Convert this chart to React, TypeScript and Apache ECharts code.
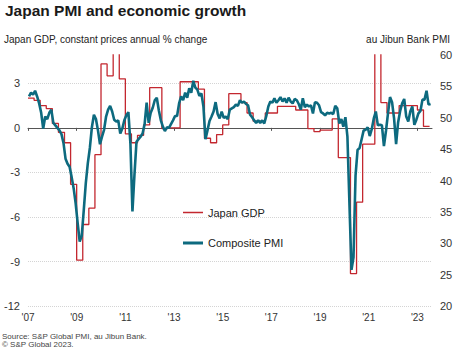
import React, { useEffect, useRef } from 'react';
import * as echarts from 'echarts';

const FONT = '"Liberation Sans", Arial, sans-serif';
const RED = '#c3272f';
const TEAL = '#0d6a7f';

const titleText = 'Japan PMI and economic growth';
const leftAxisTitle = 'Japan GDP, constant prices annual % change';
const rightAxisTitle = 'au Jibun Bank PMI';
const sourceLines = ['Source: S&P Global PMI, au Jibun Bank.', '\u00A9 S&P Global 2023.'];
const seriesNames = ['Japan GDP', 'Composite PMI'];

// x axis: years since 2007, ticks every 2 years ('07 ... '23)
const startYear = 2007;
const xTickValues = [0, 2, 4, 6, 8, 10, 12, 14, 16];

// Composite PMI, monthly from Jan 2007
const pmi2007 = [53.4, 54.0, 53.7, 54.3, 53.4, 52.3, 50.8, 48.3, 50.2, 49.8, 50.8, 51.3];
const pmi2008 = [49.2, 48.8, 48.4, 48.0, 47.4, 46.0, 43.5, 42.7, 42.2, 40.6, 38.8, 36.4];
const pmi2009 = [33.2, 30.3, 31.2, 35.3, 39.6, 42.8, 45.2, 48.5, 50.5, 49.8, 48.0, 45.8];
const pmi2010 = [47.0, 48.1, 50.2, 51.3, 51.9, 51.0, 49.7, 49.4, 49.6, 47.5, 48.3, 49.6];
const pmi2011 = [50.4, 50.9, 45.9, 35.1, 41.0, 46.2, 46.6, 47.0, 47.5, 49.0, 52.4, 49.2];
const pmi2012 = [50.8, 51.6, 52.8, 53.2, 51.2, 49.6, 48.6, 47.9, 48.5, 48.4, 49.0, 49.6];
const pmi2013 = [50.3, 50.3, 52.3, 53.4, 52.8, 54.0, 53.2, 54.7, 54.0, 55.9, 54.8, 54.5];
const pmi2014 = [53.5, 53.9, 51.8, 46.6, 48.0, 49.5, 50.2, 51.0, 52.5, 50.6, 49.9, 51.0];
const pmi2015 = [50.0, 50.2, 49.8, 51.3, 51.5, 51.7, 52.1, 51.9, 52.8, 52.4, 52.6, 52.2];
const pmi2016 = [52.0, 50.5, 50.1, 49.6, 49.2, 49.6, 49.2, 49.6, 49.1, 50.3, 51.8, 52.6];
const pmi2017 = [52.4, 53.1, 52.4, 52.8, 53.3, 52.6, 53.1, 52.4, 53.2, 52.6, 52.3, 53.0];
const pmi2018 = [52.8, 52.2, 51.3, 53.1, 51.7, 52.1, 51.8, 52.0, 50.7, 52.5, 52.4, 52.0];
const pmi2019 = [50.9, 50.7, 50.4, 50.8, 50.7, 50.8, 50.6, 51.9, 51.5, 49.1, 49.8, 48.6];
const pmi2020 = [50.1, 47.0, 36.2, 25.8, 27.8, 40.8, 44.9, 45.2, 46.6, 48.0, 48.1, 48.5];
const pmi2021 = [47.1, 48.2, 49.9, 51.0, 48.8, 48.9, 48.8, 45.5, 47.9, 50.7, 53.3, 52.5];
const pmi2022 = [49.9, 45.8, 49.3, 51.1, 52.3, 53.0, 50.2, 49.4, 51.0, 51.8, 48.9, 49.7];
const pmi2023 = [50.7, 51.1, 52.9, 52.9, 54.3, 52.1, 52.2];

// Japan GDP, annual % change, quarterly from 2007 Q1
const gdp2007 = [2.0, 1.85, 1.5, 1.3];
const gdp2008 = [0.3, -0.3, -1.0, -3.8];
const gdp2009 = [-8.9, -6.5, -5.4, -1.8];
const gdp2010 = [4.3, 3.5, 6.5, 3.3];
const gdp2011 = [-0.4, -1.0, -0.5, 0.2];
const gdp2012 = [2.7, 2.7, -0.05, 0.0];
const gdp2013 = [0.0, 3.1, 3.1, 3.1];
const gdp2014 = [2.6, -0.7, -1.0, -0.45];
const gdp2015 = [0.2, 2.3, 2.3, 1.7];
const gdp2016 = [1.0, 0.45, 0.45, 1.0];
const gdp2017 = [1.0, 1.45, 1.45, 1.45];
const gdp2018 = [1.2, 1.2, -0.05, -0.25];
const gdp2019 = [-0.15, -0.15, 0.6, -2.0];
const gdp2020 = [-2.0, -9.8, -5.0, -1.1];
const gdp2021 = [-1.1, 7.3, 1.7, 1.0];
const gdp2022 = [1.0, 1.5, 1.5, 1.5];
const gdp2023 = [1.2, 0.1];

const pmiMonthly = [
  ...pmi2007, ...pmi2008, ...pmi2009, ...pmi2010, ...pmi2011, ...pmi2012,
  ...pmi2013, ...pmi2014, ...pmi2015, ...pmi2016, ...pmi2017, ...pmi2018,
  ...pmi2019, ...pmi2020, ...pmi2021, ...pmi2022, ...pmi2023,
];
const gdpQuarterly = [
  ...gdp2007, ...gdp2008, ...gdp2009, ...gdp2010, ...gdp2011, ...gdp2012,
  ...gdp2013, ...gdp2014, ...gdp2015, ...gdp2016, ...gdp2017, ...gdp2018,
  ...gdp2019, ...gdp2020, ...gdp2021, ...gdp2022, ...gdp2023,
];

const xMax = 16.6;

const gdpData = [
  ...gdpQuarterly.map((v, i) => [i / 4, v]),
  [gdpQuarterly.length / 4, gdpQuarterly[gdpQuarterly.length - 1]],
];
const pmiData = pmiMonthly.map((v, i) => [(i + 0.5) / 12, v]);

const yearLabel = (v: number) => "'" + String((startYear + Math.round(v)) % 100).padStart(2, '0');

const legendBase = {
  orient: 'vertical',
  left: 178,
  itemWidth: 20,
  icon: 'rect',
  selectedMode: false,
  textStyle: { fontFamily: FONT, fontSize: 11, color: '#222' },
};

const option: any = {
  animation: false,
  backgroundColor: '#ffffff',
  textStyle: { fontFamily: FONT },
  title: {
    text: titleText,
    left: 5,
    top: 2,
    padding: 0,
    textStyle: { fontFamily: FONT, fontSize: 15.5, fontWeight: 'bold', color: '#1a1a1a' },
  },
  legend: [
    { ...legendBase, top: 202, itemHeight: 1.5, data: [seriesNames[0]] },
    { ...legendBase, top: 232.5, itemHeight: 3, data: [seriesNames[1]] },
  ],
  grid: { left: 28, right: 31, top: 55, bottom: 54.7, containLabel: false },
  xAxis: [
    {
      type: 'value',
      min: 0,
      max: xMax,
      interval: 2,
      axisLine: { show: false, onZero: false },
      axisTick: { show: false },
      splitLine: { show: false },
      axisLabel: {
        customValues: xTickValues,
        formatter: yearLabel,
        margin: 6,
        fontSize: 10,
        color: '#333',
        fontFamily: FONT,
      },
    },
    {
      type: 'value',
      min: 0,
      max: xMax,
      interval: 2,
      position: 'bottom',
      axisLine: { show: true, onZero: true, onZeroAxisIndex: 0, lineStyle: { color: '#555', width: 1 } },
      axisTick: { show: true, inside: false, length: 3, customValues: xTickValues, lineStyle: { color: '#555', width: 1 } },
      axisLabel: { show: false },
      splitLine: { show: false },
    },
  ],
  yAxis: [
    {
      type: 'value',
      position: 'left',
      min: -12,
      max: 4.9,
      interval: 3,
      axisLine: { show: false },
      axisTick: { show: false },
      axisLabel: { showMaxLabel: false, margin: 8, fontSize: 11, color: '#333', fontFamily: FONT },
      splitLine: { show: true, showMaxLine: false, lineStyle: { color: '#d4d4d4', type: 'dotted', width: 1 } },
    },
    {
      type: 'value',
      position: 'right',
      min: 20,
      max: 60,
      interval: 5,
      axisLine: { show: false },
      axisTick: { show: false },
      axisLabel: { margin: 8, fontSize: 11, color: '#333', fontFamily: FONT },
      splitLine: { show: false },
    },
  ],
  graphic: [
    {
      type: 'text',
      left: 4,
      top: 34,
      style: { text: leftAxisTitle, font: `10px ${FONT}`, fill: '#222' },
    },
    {
      type: 'text',
      right: 13,
      top: 34,
      style: { text: rightAxisTitle, font: `10px ${FONT}`, fill: '#222' },
    },
    {
      type: 'text',
      left: 2,
      top: 332,
      style: { text: sourceLines.join('\n'), font: `8px ${FONT}`, fill: '#444', lineHeight: 8.5 },
    },
  ],
  series: [
    {
      name: seriesNames[0],
      type: 'line',
      xAxisIndex: 0,
      yAxisIndex: 0,
      step: 'end',
      symbol: 'none',
      data: gdpData,
      lineStyle: { color: RED, width: 1.3 },
      itemStyle: { color: RED },
      z: 2,
    },
    {
      name: seriesNames[1],
      type: 'line',
      xAxisIndex: 0,
      yAxisIndex: 1,
      symbol: 'none',
      data: pmiData,
      lineStyle: { color: TEAL, width: 2.6 },
      itemStyle: { color: TEAL },
      z: 3,
    },
  ],
};

export default function App() {
  const ref = useRef<HTMLDivElement>(null);
  useEffect(() => {
    if (!ref.current) return;
    const chart = echarts.init(ref.current, null, { renderer: 'svg' });
    chart.setOption(option);
    return () => chart.dispose();
  }, []);
  return (
    <div
      ref={ref}
      style={{ position: 'fixed', left: 0, top: 0, width: 463, height: 361, background: '#fff' }}
    />
  );
}
